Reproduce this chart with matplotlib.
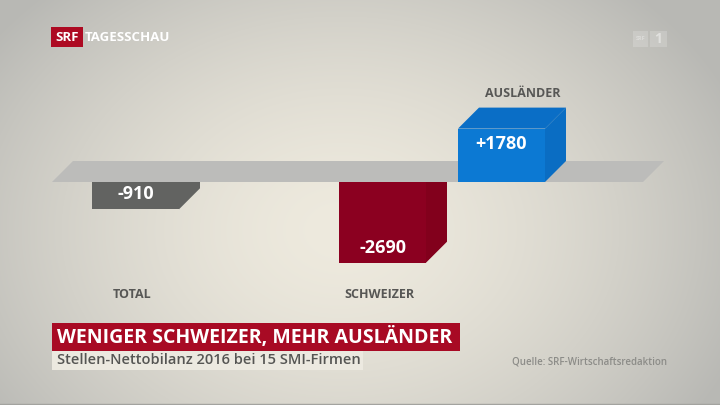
import matplotlib.pyplot as plt
import numpy as np
from matplotlib.patches import Polygon, Rectangle

# data
categories = ["TOTAL", "SCHWEIZER", "AUSLÄNDER"]
values = [-910, -2690, 1780]
value_labels = ["-910", "-2690", "+1780"]
title = "WENIGER SCHWEIZER, MEHR AUSLÄNDER"
subtitle = "Stellen-Nettobilanz 2016 bei 15 SMI-Firmen"
source = "Quelle: SRF-Wirtschaftsredaktion"

# layout in pixels
W, H = 720, 405
bar_left = [92, 339, 458]
bar_w = 87
base_y = 182          # front edge of the grey platform
px_per_unit = 0.0300
dx, dy = 21, 21       # fake 3d depth
label_row = 294       # row of the labels under the negative bars

front_col = ["#626361", "#8b0020", "#0c79d3"]
side_col = ["#626361", "#82001c", "#0a6dc3"]
top_col = ["#626361", "#8b0020", "#0a6ec6"]

plt.rcParams['font.family'] = ['Open Sans', 'DejaVu Sans']

fig = plt.figure(figsize=(7.2, 4.05), dpi=100)

# background with soft vignette, also used for the pixel-space decoration
bg = fig.add_axes([0, 0, 1, 1])
yy, xx = np.mgrid[0:H, 0:W]
d = np.sqrt(((xx - 340) / 430.0) ** 2 + ((yy - 230) / 330.0) ** 2)
d = np.clip(d, 0, 1) ** 1.6
c0 = np.array([238, 234, 222]) / 255
c1 = np.array([184, 184, 180]) / 255
bg.imshow(c0 + (c1 - c0) * d[..., None], extent=(0, W, H, 0), aspect='auto')
bg.set_xlim(0, W)
bg.set_ylim(H, 0)
bg.axis('off')

# bars: x in pixels, y in job units
ax = fig.add_axes([0, 0, 1, 1])
ax.set_xlim(0, W)
ax.set_ylim(-(H - base_y) / px_per_unit, base_y / px_per_unit)
ax.axis('off')
dyv = dy / px_per_unit

ax.add_patch(Polygon([(52, 0), (643, 0), (643 + dx, dyv), (52 + dx, dyv)],
                     closed=True, color="#bcbcba", lw=0, zorder=1))

for i, v in enumerate(values):
    x0 = bar_left[i]
    x1 = x0 + bar_w
    ax.bar(x0, v, bar_w, align='edge', color=front_col[i], lw=0, zorder=3)
    if v < 0:
        side = [(x1, 0), (x1 + dx, 0), (x1 + dx, v + dyv), (x1, v)]
    else:
        side = [(x1, 0), (x1 + dx, dyv), (x1 + dx, v + dyv), (x1, v)]
        ax.add_patch(Polygon([(x0, v), (x0 + dx, v + dyv), (x1 + dx, v + dyv), (x1, v)],
                             closed=True, color=top_col[i], lw=0, zorder=3))
    ax.add_patch(Polygon(side, closed=True, color=side_col[i], lw=0, zorder=3))

    # value inside the bar, near its end
    ax.annotate(value_labels[i], (x0 + bar_w / 2, v),
                xytext=(0, 15 if v < 0 else -15), textcoords='offset pixels',
                ha='center', va='center', color='white', fontsize=13,
                fontweight='bold', zorder=5)

    # category label
    if v < 0:
        bg.text(x0 + bar_w / 2 - 3, label_row, categories[i], ha='center', va='center',
                color='#575755', fontsize=9, fontweight='bold')
    else:
        ax.annotate(categories[i], (x0 + dx + bar_w / 2, v + dyv),
                    xytext=(0, 14), textcoords='offset pixels',
                    ha='center', va='center', color='#575755', fontsize=9,
                    fontweight='bold')

# logo
bg.add_patch(Rectangle((51, 27), 32, 20, color='#ad0a22', lw=0))
bg.text(67, 37.5, "SRF", ha='center', va='center', color='white', fontsize=9.5, fontweight='bold')
bg.text(85, 37.5, "TAGESSCHAU", ha='left', va='center', color='white', fontsize=9.5, fontweight='bold')

# faint channel mark top right
bg.add_patch(Rectangle((633, 31), 15, 16, color='white', alpha=0.18, lw=0))
bg.add_patch(Rectangle((650, 31), 17, 16, color='white', alpha=0.18, lw=0))
bg.text(640.5, 39, "SRF", ha='center', va='center', color='white', alpha=0.35, fontsize=4, fontweight='bold')
bg.text(658.5, 39, "1", ha='center', va='center', color='white', alpha=0.45, fontsize=10, fontweight='bold')

# title block
bg.add_patch(Rectangle((52, 323), 408, 28, color='#a80a24', lw=0))
bg.text(57, 337.5, title, ha='left', va='center', color='white', fontsize=14, fontweight='bold')
bg.add_patch(Rectangle((52, 351), 311, 19, color='#ece9e0', lw=0))
bg.text(57, 360.5, subtitle, ha='left', va='center', color='#555553', fontsize=10.5, fontweight='semibold')
bg.text(512, 362, source, ha='left', va='center', color='#8c8c88', fontsize=7, fontweight='semibold')

bg.axhline(403.5, color='#a3a39f', lw=1)

fig.savefig("out.png", dpi=100)
